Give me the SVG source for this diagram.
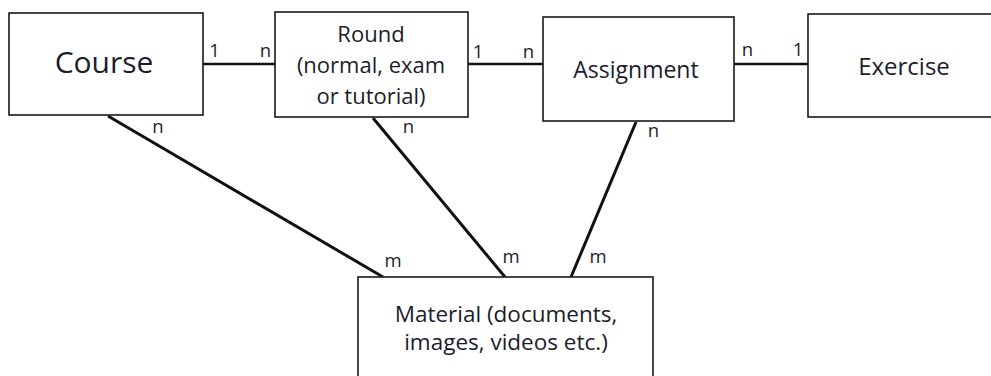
<svg xmlns="http://www.w3.org/2000/svg" width="991" height="376" viewBox="0 0 991 376">
<style>
.box{fill:#fff;stroke:#1a1a1a;stroke-width:1.6}
.t{font-family:"Open Sans","Noto Sans",sans-serif;fill:#1c1c2c;text-anchor:middle}
.lbl{font-family:"Open Sans","Noto Sans",sans-serif;fill:#1c1c2c;text-anchor:middle;font-size:18.5px}
.c{stroke:#111;fill:none}
</style>
<rect width="991" height="376" fill="#fff"/>
<g id="connectors">
<line class="c" x1="203" y1="64" x2="275" y2="64" stroke-width="2.6"/>
<line class="c" x1="468" y1="64" x2="543" y2="64" stroke-width="2.6"/>
<line class="c" x1="734" y1="64" x2="808" y2="64" stroke-width="2.6"/>
<line class="c" x1="108" y1="116" x2="383" y2="277" stroke-width="3"/>
<line class="c" x1="373" y1="118" x2="505" y2="277" stroke-width="3"/>
<line class="c" x1="636" y1="122" x2="571" y2="277" stroke-width="3"/>
<text class="lbl" x="214.5" y="57">1</text>
<text class="lbl" x="265.5" y="57">n</text>
<text class="lbl" x="158" y="133">n</text>
<text class="lbl" x="478" y="58">1</text>
<text class="lbl" x="528.5" y="58">n</text>
<text class="lbl" x="747.5" y="56">n</text>
<text class="lbl" x="798" y="56">1</text>
<text class="lbl" x="408.5" y="133">n</text>
<text class="lbl" x="653.5" y="137">n</text>
<text class="lbl" x="393" y="267">m</text>
<text class="lbl" x="511" y="263">m</text>
<text class="lbl" x="598" y="263">m</text>
</g>
<g id="course">
<rect class="box" x="9" y="13" width="194" height="102"/>
<text class="t" x="104" y="73" font-size="30">Course</text>
</g>
<g id="round">
<rect class="box" x="275" y="12" width="193" height="105"/>
<text class="t" x="371" y="42" font-size="22">Round</text>
<text class="t" x="371" y="73" font-size="22">(normal, exam</text>
<text class="t" x="371" y="104" font-size="22">or tutorial)</text>
</g>
<g id="assignment">
<rect class="box" x="543" y="17" width="191" height="104"/>
<text class="t" x="636" y="78" font-size="23">Assignment</text>
</g>
<g id="exercise">
<rect class="box" x="808" y="14" width="190" height="103"/>
<text class="t" x="904" y="75" font-size="24">Exercise</text>
</g>
<g id="material">
<rect class="box" x="358" y="277" width="295" height="110"/>
<text class="t" x="506" y="322" font-size="22.5">Material (documents,</text>
<text class="t" x="506" y="350" font-size="22.5">images, videos etc.)</text>
</g>
</svg>
